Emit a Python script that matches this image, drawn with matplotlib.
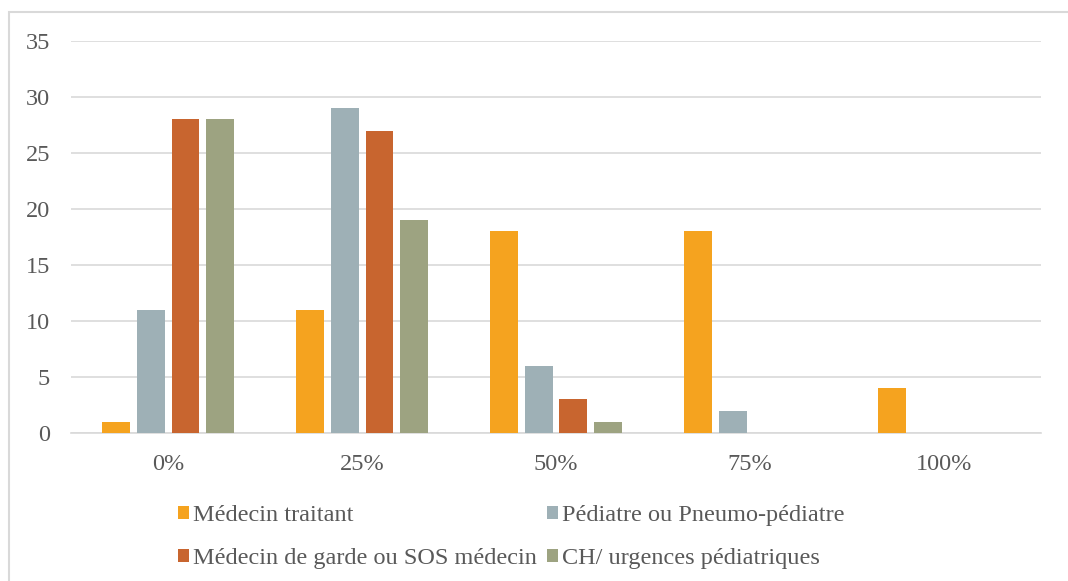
import matplotlib.pyplot as plt
import numpy as np
from matplotlib.patches import Rectangle, Patch

# ── Data ──────────────────────────────────────────────────────────────────────
categories = ["0%", "25%", "50%", "75%", "100%"]
series_names = [
    "Médecin traitant",
    "Pédiatre ou Pneumo-pédiatre",
    "Médecin de garde ou SOS médecin",
    "CH/ urgences pédiatriques",
]
medecin_traitant = [1, 11, 18, 18, 4]
pediatre = [11, 29, 6, 2, 0]
medecin_garde = [28, 27, 3, 0, 0]
ch_urgences = [28, 19, 1, 0, 0]

# ── Style ─────────────────────────────────────────────────────────────────────
COLORS = ["#F5A31F", "#9EB0B6", "#C8652F", "#9DA381"]
TEXT = "#595959"
GRID = "#D9D9D9"
plt.rcParams["font.family"] = "serif"
plt.rcParams["font.serif"] = ["Liberation Serif", "DejaVu Serif"]
FS = 17.5

fig = plt.figure(figsize=(10.68, 5.81), dpi=100)
ax = fig.add_axes([0.0665, 0.2547, 0.9082, 0.6747])

x = np.arange(len(categories))
step, width = 0.18, 0.144
all_series = [medecin_traitant, pediatre, medecin_garde, ch_urgences]
handles = []
for i, (vals, name, col) in enumerate(zip(all_series, series_names, COLORS)):
    ax.bar(x + (i - 1.5) * step, vals, width, color=col, zorder=3)
    handles.append(Patch(facecolor=col, label=name))

ax.set_xlim(-0.5, 4.5)
ax.set_ylim(0, 35)
ax.set_yticks(range(0, 36, 5))
ax.set_xticks(x)
ax.set_xticklabels(categories)
ax.grid(axis="y", color=GRID, linewidth=1.2, zorder=0)
for s in ["top", "right", "left"]:
    ax.spines[s].set_visible(False)
ax.spines["bottom"].set_color(GRID)
ax.spines["bottom"].set_linewidth(1.2)
ax.tick_params(length=0, labelsize=FS, colors=TEXT)
ax.tick_params(axis="x", pad=15)
ax.tick_params(axis="y", pad=15)

# legend: two rows, two columns
order = [0, 2, 1, 3]
leg = fig.legend([handles[k] for k in order], [series_names[k] for k in order],
                 ncol=2, loc="center left", bbox_to_anchor=(0.1667, 0.075),
                 frameon=False, fontsize=FS, handlelength=0.45, handleheight=0.45,
                 handletextpad=0.15, columnspacing=0.43, labelspacing=0.9,
                 borderaxespad=0, borderpad=0)
for t in leg.get_texts():
    t.set_color(TEXT)

# outer chart border
fig.patches.append(Rectangle((9 / 1068, -0.05), 1.1, 1 - 12 / 581 + 0.05,
                             transform=fig.transFigure, fill=False,
                             edgecolor=GRID, linewidth=1.5))

fig.savefig("out.png", dpi=100, facecolor="white")
